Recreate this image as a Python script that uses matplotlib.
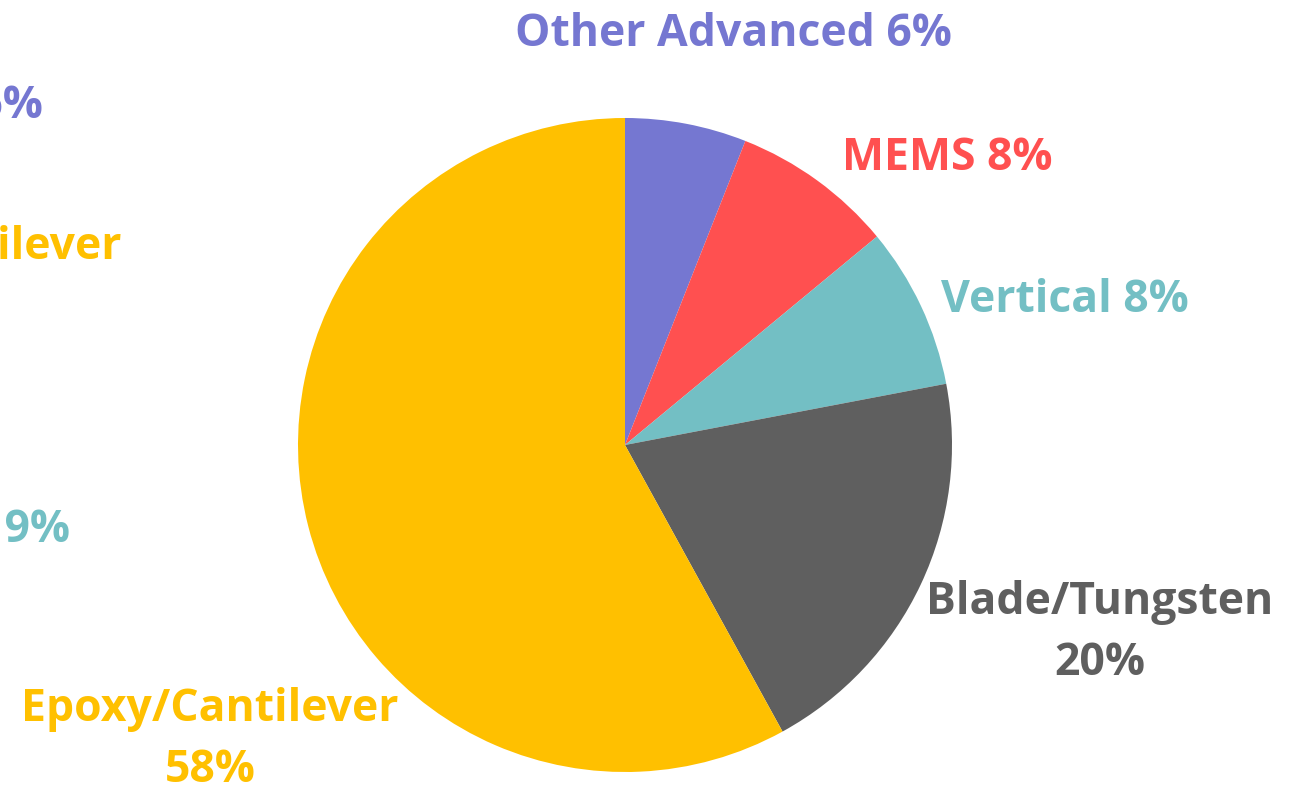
import matplotlib
matplotlib.use('Agg')
import matplotlib.pyplot as plt

# Main pie
labels = ['Other Advanced', 'MEMS', 'Vertical', 'Blade/Tungsten', 'Epoxy/Cantilever']
shares = [6, 8, 8, 20, 58]
colors = ['#7577D1', '#FF5050', '#73BFC4', '#5F5F5F', '#FFC000']

# Partially visible labels of a neighbouring chart (cut off at the left edge)
left_labels = ['Other Advanced 6%', 'Epoxy/Cantilever', 'Vertical 19%']
left_colors = ['#7577D1', '#FFC000', '#73BFC4']

plt.rcParams['font.family'] = ['Open Sans', 'DejaVu Sans']

fig = plt.figure(figsize=(12.96, 7.92), dpi=100)
ax = fig.add_axes([0, 0, 1, 1])

ax.pie(shares, colors=colors, startangle=90, counterclock=False,
       center=(625, 347), radius=327, frame=True,
       wedgeprops=dict(linewidth=0))
ax.set_xlim(0, 1296)
ax.set_ylim(0, 792)
ax.set_aspect('equal')
ax.axis('off')

fs = 32
# label layout (x, y, text)
pos = [(733, 758, f'{labels[0]} {shares[0]}%'),
       (947, 633, f'{labels[1]} {shares[1]}%'),
       (1065, 492, f'{labels[2]} {shares[2]}%'),
       (1100, 159, f'{labels[3]}\n{shares[3]}%'),
       (210, 52, f'{labels[4]}\n{shares[4]}%')]
for (x, y, t), c in zip(pos, colors):
    ax.text(x, y, t, ha='center', va='center', fontsize=fs, fontweight='bold',
            color=c, linespacing=1.45)

left_pos = [(43, 685), (121, 545), (70, 262)]
for (x, y), t, c in zip(left_pos, left_labels, left_colors):
    ax.text(x, y, t, ha='right', va='center', fontsize=fs, fontweight='bold', color=c)

fig.savefig('out.png', dpi=100)
